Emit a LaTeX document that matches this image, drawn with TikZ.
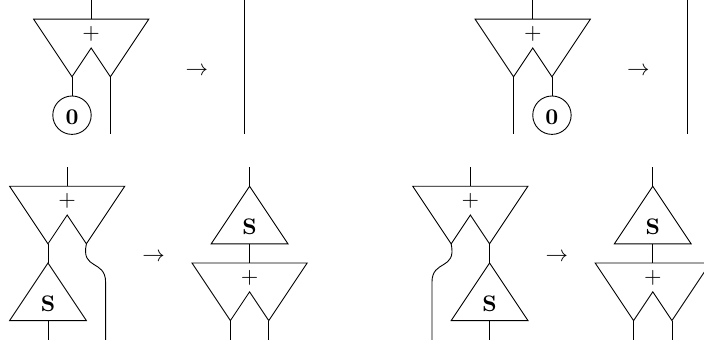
\documentclass[tikz,border=0pt]{standalone}
\tikzset{
  unitnode/.style={draw,circle,inner sep=0pt,minimum size=0.6cm,text height=8.6pt,text depth=0pt},
  scalarlabel/.style={inner sep=0pt},
  adder/.pic={
    \coordinate (-top) at (0,0);
    \coordinate (-tipl) at (-1,-3);
    \coordinate (-tipr) at (1,-3);
    \draw (-3,0) -- (3,0) -- (-tipr) -- (0,-1.5) -- (-tipl) -- cycle;
    \node[inner sep=0pt] (-plus) at (0,-0.78) {$+$};
  },
  scalar/.pic={
    \coordinate (-top) at (0,0);
    \coordinate (-base) at (0,-3);
    \draw (-top) -- (2,-3) -- (-2,-3) -- cycle;
    \node[scalarlabel] (-lab) at (0,-2.12) {$\mathbf{S}$};
  },
}
\begin{document}
\begin{tikzpicture}[x=0.3cm,y=0.3cm]
  \useasboundingbox (0,0) rectangle (36.67,-17.86);

  % top row, left
  \coordinate (a1in) at (4.75,0);
  \pic (a1) at (4.75,-1) {adder};
  \node[unitnode] (u1) at (3.75,-6) {$\mathbf{0}$};
  \coordinate (a1out) at (5.75,-7);
  \draw (a1in) -- (a1-top);
  \draw (a1-tipl) -- (u1);
  \draw (a1-tipr) -- (a1out);
  \node (to1) at (10.25,-3.7) {$\to$};
  \coordinate (id1a) at (12.75,0);
  \coordinate (id1b) at (12.75,-7);
  \draw (id1a) -- (id1b);

  % top row, right
  \coordinate (a2in) at (27.75,0);
  \pic (a2) at (27.75,-1) {adder};
  \node[unitnode] (u2) at (28.75,-6) {$\mathbf{0}$};
  \coordinate (a2out) at (26.75,-7);
  \draw (a2in) -- (a2-top);
  \draw (a2-tipr) -- (u2);
  \draw (a2-tipl) -- (a2out);
  \node (to2) at (33.25,-3.7) {$\to$};
  \coordinate (id2a) at (35.8,0);
  \coordinate (id2b) at (35.8,-7);
  \draw (id2a) -- (id2b);

  % bottom row, left
  \coordinate (a3in) at (3.5,-8.7);
  \pic (a3) at (3.5,-9.7) {adder};
  \pic (s3) at (2.5,-13.7) {scalar};
  \coordinate (s3out) at (2.5,-17.7);
  \coordinate (a3bend) at (5.5,-14.7);
  \coordinate (a3out) at (5.5,-17.7);
  \draw (a3in) -- (a3-top);
  \draw (a3-tipl) -- (s3-top);
  \draw (s3-base) -- (s3out);
  \draw (a3-tipr) .. controls +(-0.3,-1.4) and +(0,1.2) .. (a3bend) -- (a3out);
  \node (to3) at (8,-13.4) {$\to$};

  \coordinate (s4in) at (13,-8.7);
  \pic (s4) at (13,-9.7) {scalar};
  \pic (a4) at (13,-13.7) {adder};
  \coordinate (a4l) at (12,-17.7);
  \coordinate (a4r) at (14,-17.7);
  \draw (s4in) -- (s4-top);
  \draw (s4-base) -- (a4-top);
  \draw (a4-tipl) -- (a4l);
  \draw (a4-tipr) -- (a4r);

  % bottom row, right
  \coordinate (a5in) at (24.5,-8.7);
  \pic (a5) at (24.5,-9.7) {adder};
  \pic (s5) at (25.5,-13.7) {scalar};
  \coordinate (s5out) at (25.5,-17.7);
  \coordinate (a5bend) at (22.5,-14.7);
  \coordinate (a5out) at (22.5,-17.7);
  \draw (a5in) -- (a5-top);
  \draw (a5-tipr) -- (s5-top);
  \draw (s5-base) -- (s5out);
  \draw (a5-tipl) .. controls +(0.3,-1.4) and +(0,1.2) .. (a5bend) -- (a5out);
  \node (to5) at (29,-13.4) {$\to$};

  \coordinate (s6in) at (34,-8.7);
  \pic (s6) at (34,-9.7) {scalar};
  \pic (a6) at (34,-13.7) {adder};
  \coordinate (a6l) at (33,-17.7);
  \coordinate (a6r) at (35,-17.7);
  \draw (s6in) -- (s6-top);
  \draw (s6-base) -- (a6-top);
  \draw (a6-tipl) -- (a6l);
  \draw (a6-tipr) -- (a6r);
\end{tikzpicture}
\end{document}
